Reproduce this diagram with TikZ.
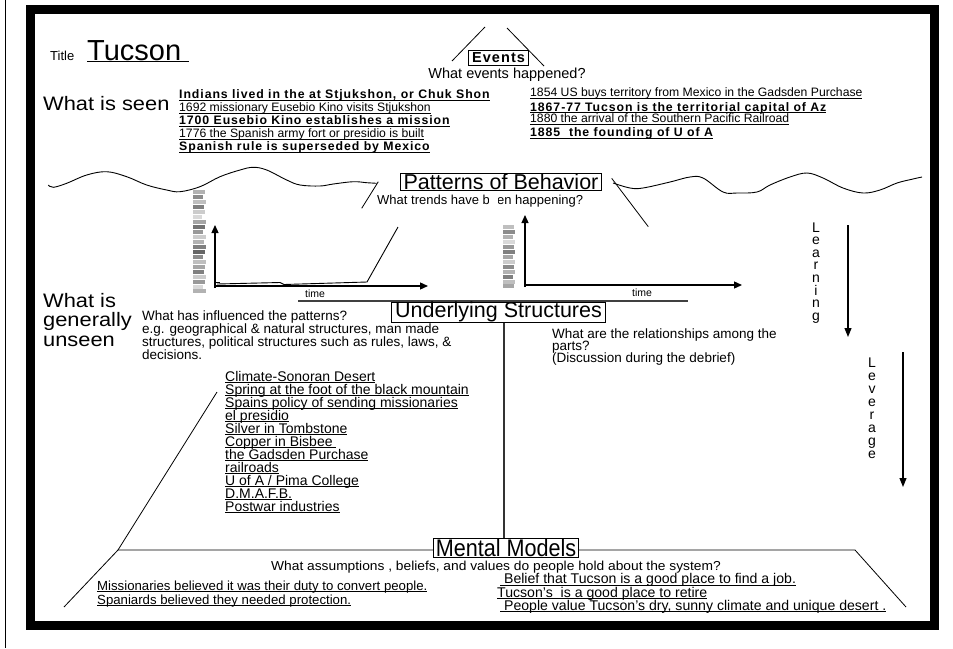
\documentclass[tikz,border=0pt]{standalone}
\usepackage{fontspec}
\usetikzlibrary{arrows.meta}
\setmainfont{Liberation Sans}
\newfontfamily\narrowfont[FakeStretch=0.9]{Liberation Sans}
\newfontfamily\widefont[FakeStretch=1.12]{Liberation Sans}
\newfontfamily\broadfont[FakeStretch=1.06]{Liberation Sans}
\newfontfamily\spacedfont[LetterSpace=7.5]{Liberation Sans}
\newcommand\fs[1]{\fontsize{#1}{#1}\selectfont}
% underline at a fixed distance below the baseline
\newcommand\ulx[1]{\setbox0\hbox{#1}\rlap{\rule[-1.8pt]{\wd0}{0.7pt}}\box0}

\begin{document}
\begin{tikzpicture}[x=1pt,y=-1pt,
  txt/.style={inner sep=0pt,anchor=base west},
  ctxt/.style={inner sep=0pt,anchor=base},
  lbox/.style={draw,line width=0.9pt,fill=white,inner xsep=2.5pt,inner ysep=1pt},
  thin/.style={line width=0.8pt},
  axis/.style={line width=1.3pt,-{Triangle[length=8pt,width=7pt]}},
  wave/.style={line width=0.9pt,smooth,tension=0.6},
  bigarrow/.style={line width=1.1pt,-{Triangle[length=9pt,width=7pt]}},
  item/.style={txt,font=\fs{12.2}},
  bitem/.style={txt,font=\spacedfont\bfseries\fs{12.3}},
  sitem/.style={txt,font=\fs{14}},
  para/.style={txt,font=\fs{13.5}},
  belief/.style={txt,font=\fs{13.2}},
  beliefR/.style={txt,font=\fs{14.1}},
]
\useasboundingbox (0,0) rectangle (953,648);
\fill[white] (0,0) rectangle (953,648);

% page rule and thick frame
\draw[thin] (5,0) -- (5,648);
\draw[line width=9pt] (30,9.5) rectangle (934,625.5);

% ---------- title and events ----------
\node[txt] (ttl) at (50,60) {\fs{13}Title};
\node[txt] (tucson) at (87,60) {\fs{29}\ulx{Tucson\ }};
\node[txt] (seen) at (43,110) {\widefont\fs{19.5}What is seen};

\coordinate (evL1) at (452,61);
\coordinate (evL2) at (485,27);
\coordinate (evR1) at (507,28);
\coordinate (evR2) at (544,66);
\draw[thin] (evL1) -- (evL2);
\draw[thin] (evR1) -- (evR2);
\node[lbox,font=\spacedfont\bfseries\fs{14.5},inner xsep=3.5pt,inner ysep=2pt] (events) at (498.5,58) {Events};
\node[ctxt,font=\fs{14.5}] (evq) at (507,78) {What events happened?};

\node[bitem] (e1) at (179,98.5) {\ulx{Indians lived in the at Stjukshon, or Chuk Shon}};
\node[item]  (e2) at (179,111.5) {\ulx{1692 missionary Eusebio Kino visits Stjukshon}};
\node[bitem] (e3) at (179,124.5) {\ulx{1700 Eusebio Kino establishes a mission}};
\node[item]  (e4) at (179,137.5) {\ulx{1776 the Spanish army fort or presidio is built}};
\node[bitem] (e5) at (179,150.5) {\ulx{Spanish rule is superseded by Mexico}};

\node[item]  (e6) at (530,96.5) {\ulx{1854 US buys territory from Mexico in the Gadsden Purchase}};
\node[bitem] (e7) at (530,111) {\ulx{1867-77 Tucson is the territorial capital of Az}};
\node[item]  (e8) at (530,122.5) {\ulx{1880 the arrival of the Southern Pacific Railroad}};
\node[bitem] (e9) at (530,136.5) {\ulx{1885\ \ the founding of U of A}};

% ---------- patterns of behaviour ----------
\draw[wave] plot coordinates {(48.3,185) (53.3,187.3) (66.7,183.3) (86.7,175) (106.7,171.7)
  (126.7,176.7) (146.7,185) (166.7,190) (180,191.7) (200,186.7) (220,176.7) (240,170)
  (253.3,167.3) (266.7,170) (286.7,180) (300,185) (320,186) (333.3,184) (353.3,181.7)
  (366.7,182.7) (376.7,183.3)};
\draw[wave] plot coordinates {(613,183) (630,188) (643,188) (670,182) (690,177) (703,178)
  (723,192) (737,193) (757,192) (770,185) (790,177) (807,173) (823,178) (843,188)
  (863,193) (880,190) (897,183) (913,179) (922,177)};

\node[lbox,font=\fs{21.5},inner xsep=3pt,inner ysep=1pt] (pat) at (501,182) {Patterns of Behavior};
\node[txt,font=\fs{13}] (patq) at (377,204) {What trends have been happening?};
\fill[white] (488.5,193.5) rectangle (497.5,207);

\coordinate (pl1) at (378.3,181.7);
\coordinate (pl2) at (361.7,208.3);
\coordinate (pr1) at (611.7,178.3);
\coordinate (pr2) at (648.3,226.7);
\draw[thin] (pl1) -- (pl2);
\draw[thin] (pr1) -- (pr2);

% first trend graph, with its blurred axis caption
\foreach \yy/\sh/\w in {190/30/12,195/45/10,200/25/13,205/50/11,210/20/12,215/15/9,220/35/13,
  225/55/12,230/40/10,235/20/13,240/30/11,245/50/13,250/60/12,255/45/10,260/25/13,
  265/35/12,270/50/11,275/20/13,280/40/12,285/15/10,289/30/13}
  {\fill[black!\sh] (193,\yy) rectangle ++(\w,4);}
\coordinate (o1) at (215,286);
\draw[axis] (215,288) -- (215,225);
\draw[axis] (o1) -- (428,286);
\draw[line width=0.9pt] (215,282.7) -- (220,282.7);
\draw[line width=0.9pt] (217,284) -- (280,282.5) -- (284,284.5) -- (367,282) -- (398,227);
\node[txt,font=\fs{10.5}] (t1) at (305,297) {time};

% second trend graph
\foreach \yy/\sh/\w in {225/25/11,230/45/12,235/30/10,240/15/12,245/40/11,250/50/12,
  255/35/10,260/20/12,265/45/11,270/30/12,275/50/10,280/25/12,284/35/11}
  {\fill[black!\sh] (503,\yy) rectangle ++(\w,4);}
\coordinate (o2) at (525,285);
\draw[axis] (525,287) -- (525,215);
\draw[axis] (o2) -- (742,285);
\node[txt,font=\fs{10.5}] (t2) at (632,296) {time};

% learning and leverage
\node[ctxt,font=\fs{14}] (learn) at (816,232) {L};
\foreach \ch [count=\k] in {e,a,r,n,i,n,g}
  {\node[ctxt,font=\fs{14}] (learn\k) at (816,232+12.6*\k) {\ch};}
\coordinate (la1) at (848,225);
\coordinate (la2) at (848,337);
\draw[bigarrow] (la1) -- (la2);

\node[ctxt,font=\fs{14}] (lev) at (872,367) {L};
\foreach \ch [count=\k] in {e,v,e,r,a,g,e}
  {\node[ctxt,font=\fs{14}] (lev\k) at (872,367+13*\k) {\ch};}
\coordinate (va1) at (903,352);
\coordinate (va2) at (903,487);
\draw[bigarrow] (va1) -- (va2);

% ---------- underlying structures ----------
\draw[line width=1.8pt,black!75] (298,301) -- (688,301);
\node[lbox,font=\fs{21.5},inner xsep=3.5pt,inner ysep=0.2pt] (us) at (498.5,312.3) {Underlying Structures};

\node[txt,font=\widefont\fs{19.5}] (wg1) at (43,307) {What is};
\node[txt,font=\widefont\fs{19.5}] (wg2) at (43,326.5) {generally};
\node[txt,font=\widefont\fs{19.5}] (wg3) at (43,346) {unseen};

\node[para] (q1) at (142,320) {What has influenced the patterns?};
\node[para] (q2) at (142,333) {e.g. geographical \& natural structures, man made};
\node[para] (q3) at (142,346) {structures, political structures such as rules, laws, \&};
\node[para] (q4) at (142,359) {decisions.};

\node[para] (r1) at (552,338) {What are the relationships among the};
\node[para] (r2) at (552,350) {parts?};
\node[para] (r3) at (552,362) {(Discussion during the debrief)};

\foreach \s [count=\k from 0] in {Climate-Sonoran Desert,Spring at the foot of the black mountain,
  Spains policy of sending missionaries,el presidio,Silver in Tombstone,Copper in Bisbee\ ,
  the Gadsden Purchase,railroads,U of A / Pima College,D.M.A.F.B.,Postwar industries}
  {\node[sitem] (s\k) at (225,381+13*\k) {\ulx{\s}};}

% ---------- mental models ----------
\coordinate (dg1) at (217,392);
\coordinate (tl) at (118,550);
\coordinate (tr) at (855,550);
\coordinate (bl) at (64,607);
\coordinate (br) at (906,607);
\draw[thin] (dg1) -- (tl);
\draw[thin] (bl) -- (tl) -- (tr) -- (br);

\node[lbox,font=\narrowfont\fs{24},inner xsep=2.5pt,inner ysep=0.3pt] (mm) at (506,548) {Mental Models};
\coordinate (vl) at (504,0);
\draw[line width=1.2pt,black!80] (us.south -| vl) -- (mm.north -| vl);

\node[ctxt,font=\broadfont\fs{13}] (mq) at (496,570) {What assumptions , beliefs, and values do people hold about the system?};
\node[belief] (b1) at (97,590) {\ulx{Missionaries believed it was their duty to convert people.}};
\node[belief] (b2) at (97,604) {\ulx{Spaniards believed they needed protection.}};
\node[beliefR] (b3) at (500,583.5) {\ulx{\ Belief that Tucson is a good place to find a job.}};
\node[beliefR] (b4) at (497,597) {\ulx{Tucson's\ \ is a good place to retire}};
\node[beliefR] (b5) at (500,610) {\ulx{\ People value Tucson's dry, sunny climate and unique desert .}};
\end{tikzpicture}
\end{document}
